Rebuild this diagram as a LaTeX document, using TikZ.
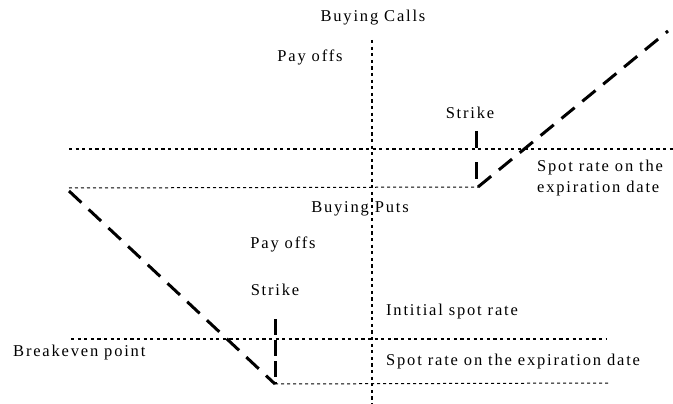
\documentclass[tikz,border=0pt]{standalone}
\usepackage{fontspec}
\setmainfont[LetterSpace=11]{Liberation Serif}
\tikzset{
    axisline/.style={line width=1.3pt,dash pattern=on 3.2pt off 3.4pt},
    thinline/.style={line width=1pt,dash pattern=on 3pt off 3pt},
    payoff/.style={line width=3pt,dash pattern=on 17pt off 10pt},
    lbl/.style={inner sep=0pt,font=\fontsize{16.5}{21}\selectfont}
}
\begin{document}
\begin{tikzpicture}[x=1pt,y=-1pt]
    \useasboundingbox (0,0) rectangle (673,404);
    % axes
    \coordinate (top) at (372,40);
    \coordinate (bot) at (372,404);
    \draw[axisline] (top) -- (bot);
    \coordinate (cl) at (69,149);
    \coordinate (cr) at (673,149);
    \draw[axisline] (cl) -- (cr);
    \coordinate (pl) at (71,339);
    \coordinate (pr) at (607,339);
    \draw[axisline] (pl) -- (pr);
    % calls
    \coordinate (cs) at (478,187);
    \coordinate (ct) at (476,131);
    \coordinate (cb) at (476,179);
    \coordinate (cend) at (668,31);
    \coordinate (cfl) at (69,188);
    \draw[thinline] (cfl) -- (cs);
    \draw[line width=3pt,dash pattern=on 17pt off 14pt] (ct) -- (cb);
    \draw[payoff] (cs) -- (cend);
    % puts
    \coordinate (ps) at (275,384);
    \coordinate (pt) at (275,319);
    \coordinate (pstart) at (69,191);
    \coordinate (pfr) at (608,383);
    \draw[thinline] (ps) -- (pfr);
    \draw[line width=3pt,dash pattern=on 16pt off 5pt] (pt) -- (ps);
    \draw[payoff] (pstart) -- (ps);
    % labels
    \node[lbl] (calls) at (373,18) {Buying Calls};
    \node[lbl] (cpay) at (310,57) {Pay offs};
    \node[lbl] (cstrike) at (470,113) {Strike};
    \node[lbl,anchor=west,align=left] (cspot) at (537,178) {Spot rate on the\\expiration date};
    \node[lbl] (puts) at (360,209) {Buying Puts};
    \node[lbl] (ppay) at (283,244) {Pay offs};
    \node[lbl] (pstrike) at (275,290) {Strike};
    \node[lbl,anchor=west] (init) at (386,312) {Intitial spot rate};
    \node[lbl,anchor=west] (breakeven) at (13,353) {Breakeven point};
    \node[lbl,anchor=west] (pspot) at (386,362) {Spot rate on the expiration date};
\end{tikzpicture}
\end{document}
